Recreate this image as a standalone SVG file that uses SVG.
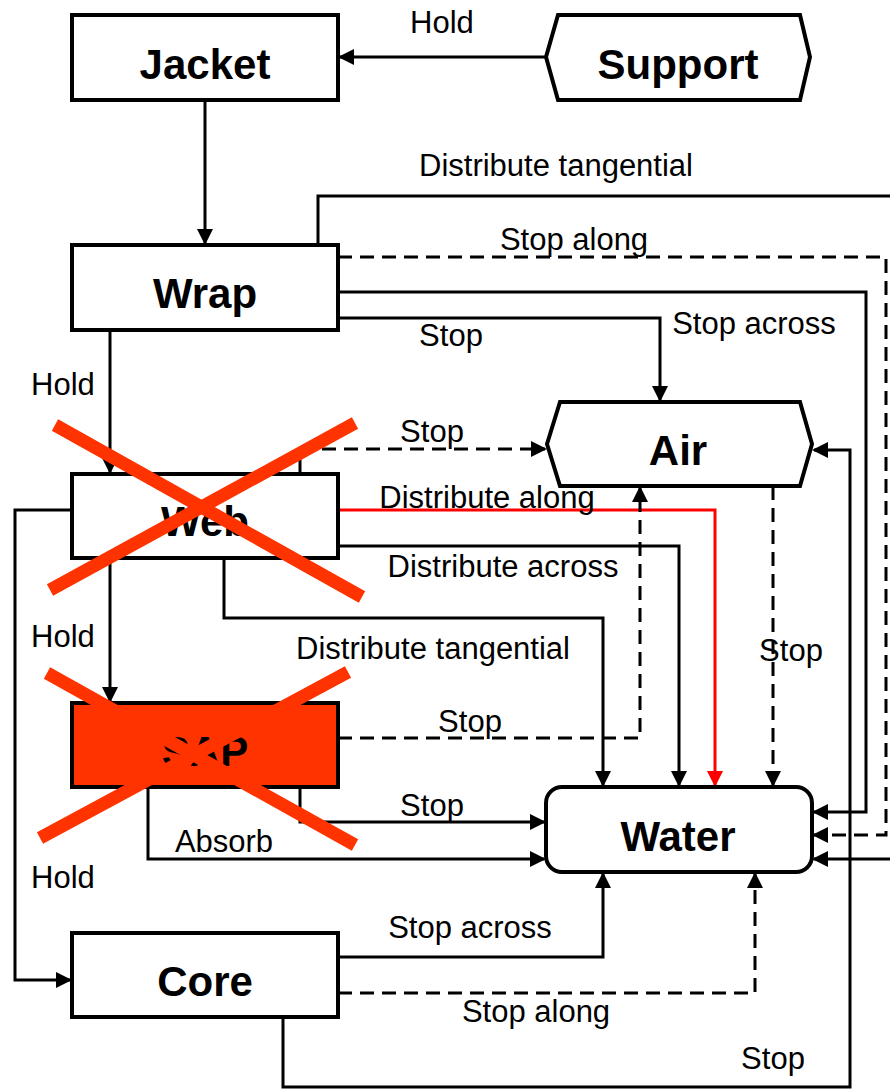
<svg xmlns="http://www.w3.org/2000/svg" width="890" height="1089" viewBox="0 0 890 1089">
<style>
.node{fill:#fff;stroke:#000;stroke-width:4}
.sap{fill:#ff3300;stroke:#000;stroke-width:4}
.nt{font-family:"Liberation Sans",Arial,sans-serif;font-weight:bold;font-size:42px;text-anchor:middle;fill:#000}
.el{font-family:"Liberation Sans",Arial,sans-serif;font-size:31px;fill:#000;text-anchor:middle}
.c{fill:none;stroke:#000;stroke-width:3}
.d{fill:none;stroke:#000;stroke-width:3;stroke-dasharray:14 8}
.r{fill:none;stroke:#ff0000;stroke-width:3}
.x{stroke:#ff3300;stroke-width:13;fill:none}
</style>
<defs>
<marker id="ah" markerUnits="userSpaceOnUse" markerWidth="17" markerHeight="16" refX="14" refY="8" orient="auto"><path d="M0,0 L16,8 L0,16 z" fill="#000"/></marker>
<marker id="ahr" markerUnits="userSpaceOnUse" markerWidth="17" markerHeight="16" refX="14" refY="8" orient="auto"><path d="M0,0 L16,8 L0,16 z" fill="#ff0000"/></marker>
</defs>
<rect width="890" height="1089" fill="#fff"/>
<g id="connectors">
<path class="c" d="M546,57 H340" marker-end="url(#ah)"/>
<path class="c" d="M205,100 V243" marker-end="url(#ah)"/>
<path class="c" d="M318,245 V196 H890"/>
<path class="d" d="M338,257 H886 V835 H814" marker-end="url(#ah)"/>
<path class="c" d="M338,292 H866 V812 H814" marker-end="url(#ah)"/>
<path class="c" d="M338,318 H660 V400" marker-end="url(#ah)"/>
<path class="c" d="M110,330 V472" marker-end="url(#ah)"/>
<path class="c" d="M300,474 V449"/>
<path class="d" d="M300,449 H545" marker-end="url(#ah)"/>
<path class="r" d="M338,510 H715 V785" marker-end="url(#ahr)"/>
<path class="c" d="M338,546 H679 V785" marker-end="url(#ah)"/>
<path class="c" d="M224,558 V618 H603 V785" marker-end="url(#ah)"/>
<path class="c" d="M110,558 V701" marker-end="url(#ah)"/>
<path class="c" d="M72,510 H15 V980 H70" marker-end="url(#ah)"/>
<path class="d" d="M338,738 H640 V488" marker-end="url(#ah)"/>
<path class="c" d="M300,787 V822 H544" marker-end="url(#ah)"/>
<path class="c" d="M148,787 V859 H544" marker-end="url(#ah)"/>
<path class="d" d="M773,486 V785" marker-end="url(#ah)"/>
<path class="c" d="M890,859 H814" marker-end="url(#ah)"/>
<path class="c" d="M338,957 H603 V874" marker-end="url(#ah)"/>
<path class="d" d="M338,993 H755 V874" marker-end="url(#ah)"/>
<path class="c" d="M283,1017 V1087 H850 V450 H814" marker-end="url(#ah)"/>
<text class="el" x="442" y="33">Hold</text>
<text class="el" x="556" y="176">Distribute tangential</text>
<text class="el" x="574" y="250">Stop along</text>
<text class="el" x="451" y="346">Stop</text>
<text class="el" x="754" y="334">Stop across</text>
<text class="el" x="63" y="395">Hold</text>
<text class="el" x="432" y="442">Stop</text>
<text class="el" x="487" y="508">Distribute along</text>
<text class="el" x="503" y="577">Distribute across</text>
<text class="el" x="63" y="647">Hold</text>
<text class="el" x="433" y="659">Distribute tangential</text>
<text class="el" x="470" y="732">Stop</text>
<text class="el" x="791" y="661">Stop</text>
<text class="el" x="432" y="816">Stop</text>
<text class="el" x="224" y="852">Absorb</text>
<text class="el" x="63" y="888">Hold</text>
<text class="el" x="470" y="938">Stop across</text>
<text class="el" x="536" y="1022">Stop along</text>
<text class="el" x="773" y="1069">Stop</text>
</g>
<g id="jacket"><rect class="node" x="72" y="15" width="266" height="85"/><text class="nt" x="205" y="79">Jacket</text></g>
<g id="support"><polygon class="node" points="546,57 558,15 800,15 810,57 800,100 558,100"/><text class="nt" x="678" y="79">Support</text></g>
<g id="wrap"><rect class="node" x="72" y="245" width="266" height="85"/><text class="nt" x="205" y="308">Wrap</text></g>
<g id="air"><polygon class="node" points="547,444 560,402 800,402 812,444 800,486 560,486"/><text class="nt" x="678" y="465">Air</text></g>
<g id="web"><rect class="node" x="72" y="474" width="266" height="84"/><text class="nt" x="205" y="536">Web</text>
<line class="x" x1="55" y1="425" x2="362" y2="597"/><line class="x" x1="50" y1="590" x2="355" y2="423"/></g>
<g id="sap"><rect class="sap" x="72" y="703" width="266" height="84"/><text class="nt" x="205" y="766">SAP</text>
<line class="x" x1="47" y1="673" x2="355" y2="845"/><line class="x" x1="40" y1="838" x2="348" y2="672"/></g>
<g id="water"><rect class="node" x="546" y="787" width="266" height="85" rx="16"/><text class="nt" x="678" y="851">Water</text></g>
<g id="core"><rect class="node" x="72" y="933" width="266" height="84"/><text class="nt" x="205" y="996">Core</text></g>
</svg>
